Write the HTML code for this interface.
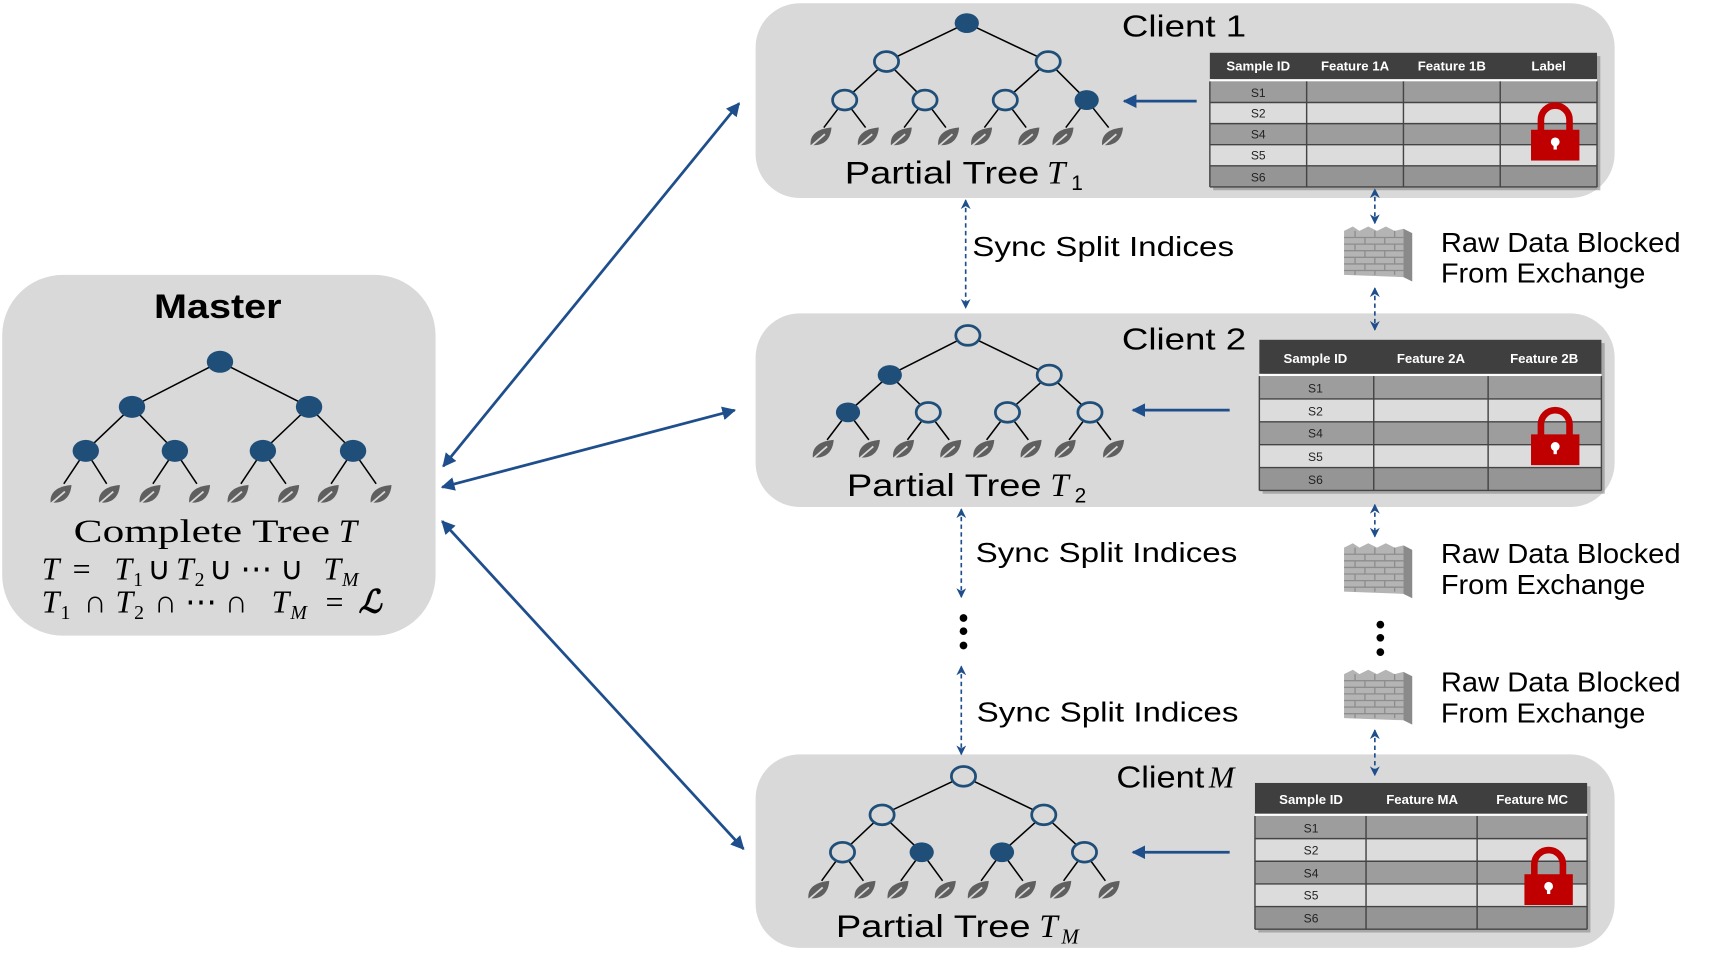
<!DOCTYPE html>
<html><head><meta charset="utf-8"><style>
html,body{margin:0;padding:0;background:#fff;}
svg{display:block;}
.s{font-family:"Liberation Sans",sans-serif;}
.r{font-family:"Liberation Serif",serif;}
</style></head><body>
<svg width="1718" height="960" viewBox="0 0 1562 873" preserveAspectRatio="none" xmlns="http://www.w3.org/2000/svg">
<defs>
<g id="lf"><path d="M-9,7 C-10,-3 -2,-8 10,-9 C9,3 2,8 -9,7Z" fill="#5f5f5f"/><path d="M-11,10 L4,-3" stroke="#d9d9d9" stroke-width="1.6"/></g>
<marker id="ah" viewBox="0 0 10 10" refX="9" refY="5" markerWidth="5" markerHeight="5" orient="auto-start-reverse"><path d="M0,0 L10,5 L0,10 z" fill="#1f4e8c"/></marker>
<marker id="ad" viewBox="0 0 10 10" refX="9" refY="5" markerWidth="6" markerHeight="6" orient="auto-start-reverse"><path d="M0,0 L10,5 L0,10 L3,5 z" fill="#1f4e8c"/></marker>
<g id="wall">
<polygon points="0,4 8,0 14,4 22,0 30,4 38,0 46,4 54,2 54,46 0,44" fill="#b4b4b4"/>
<polygon points="54,2 62,6 62,50 54,46" fill="#8a8a8a"/>
<g stroke="#8d8d8d" stroke-width="1.2">
<path d="M0,10 H54 M0,16 H54 M0,22 H54 M0,28 H54 M0,34 H54 M0,40 H54"/>
<path d="M10,4 V10 M28,4 V10 M46,4 V10 M19,10 V16 M37,10 V16 M10,16 V22 M28,16 V22 M46,16 V22 M19,22 V28 M37,22 V28 M10,28 V34 M28,28 V34 M46,28 V34 M19,34 V40 M37,34 V40 M10,40 V44 M28,40 V44 M46,40 V44"/>
</g>
</g>
<g id="lock">
<path d="M-13,-4 V-14 A13,13 0 0 1 13,-14 V-4" stroke="#c00000" stroke-width="6" fill="none"/>
<rect x="-22" y="-5" width="44" height="28" fill="#c00000"/>
<circle cx="0" cy="6" r="4" fill="#fff"/><rect x="-1.5" y="6" width="3" height="7" fill="#fff"/>
</g>
</defs>

<rect x="2" y="250" width="394" height="328" rx="55" fill="#d9d9d9"/>
<rect x="687" y="3" width="781" height="177" rx="40" fill="#d9d9d9"/>
<rect x="687" y="285" width="781" height="176" rx="40" fill="#d9d9d9"/>
<rect x="687" y="686" width="781" height="176" rx="40" fill="#d9d9d9"/>

<g stroke="#1f4e8c" stroke-width="2.5" fill="none" marker-start="url(#ah)" marker-end="url(#ah)">
<line x1="403" y1="424" x2="672" y2="94"/>
<line x1="402" y1="443" x2="668" y2="373"/>
<line x1="402" y1="474" x2="676" y2="772"/>
</g>
<g stroke="#1f4e8c" stroke-width="2.5" marker-end="url(#ah)">
<line x1="1088" y1="92" x2="1022" y2="92"/>
<line x1="1118" y1="373" x2="1030" y2="373"/>
<line x1="1118" y1="775" x2="1030" y2="775"/>
</g>
<g stroke="#1f4e8c" stroke-width="1.5" stroke-dasharray="4,3" marker-start="url(#ad)" marker-end="url(#ad)">
<line x1="878" y1="182" x2="878" y2="280"/>
<line x1="874" y1="463" x2="874" y2="543"/>
<line x1="874" y1="606" x2="874" y2="686"/>
<line x1="1250" y1="172" x2="1250" y2="203"/>
<line x1="1250" y1="262" x2="1250" y2="300"/>
<line x1="1250" y1="459" x2="1250" y2="488"/>
<line x1="1250" y1="664" x2="1250" y2="705"/>
</g>
<g fill="#000">
<circle cx="876" cy="562" r="3.5"/><circle cx="876" cy="574" r="3.5"/><circle cx="876" cy="587" r="3.5"/>
<circle cx="1255" cy="568" r="3.5"/><circle cx="1255" cy="580" r="3.5"/><circle cx="1255" cy="593" r="3.5"/>
</g>
<use href="#wall" x="1222" y="206"/>
<use href="#wall" x="1222" y="494"/>
<use href="#wall" x="1222" y="609"/>

<g stroke="#000" stroke-width="1.4">
<path d="M200,329 L120,370 M200,329 L281,370 M120,370 L78,410 M120,370 L159,410 M281,370 L239,410 M281,370 L321,410
M78,410 L58,440 M78,410 L97,440 M159,410 L139,440 M159,410 L179,440 M239,410 L219,440 M239,410 L260,440 M321,410 L301,440 M321,410 L342,440"/>
<path d="M879,21 L806,56 M879,21 L953,56 M806,56 L768,91 M806,56 L841,91 M953,56 L914,91 M953,56 L988,91
M768,91 L749,116 M768,91 L787,116 M841,91 L822,116 M841,91 L860,116 M914,91 L895,116 M914,91 L933,116 M988,91 L969,116 M988,91 L1008,116"/>
<path d="M880,305 L809,341 M880,305 L954,341 M809,341 L771,375 M809,341 L844,375 M954,341 L916,375 M954,341 L991,375
M771,375 L752,400 M771,375 L790,400 M844,375 L825,400 M844,375 L863,400 M916,375 L897,400 M916,375 L935,400 M991,375 L972,400 M991,375 L1010,400"/>
<path d="M876,706 L802,741 M876,706 L949,741 M802,741 L766,775 M802,741 L838,775 M949,741 L911,775 M949,741 L986,775
M766,775 L747,801 M766,775 L785,801 M838,775 L819,801 M838,775 L857,801 M911,775 L892,801 M911,775 L930,801 M986,775 L967,801 M986,775 L1005,801"/>
</g>
<g fill="#1f4e79">
<ellipse cx="200" cy="329" rx="12" ry="10"/><ellipse cx="120" cy="370" rx="12" ry="10"/><ellipse cx="281" cy="370" rx="12" ry="10"/>
<ellipse cx="78" cy="410" rx="12" ry="10"/><ellipse cx="159" cy="410" rx="12" ry="10"/><ellipse cx="239" cy="410" rx="12" ry="10"/><ellipse cx="321" cy="410" rx="12" ry="10"/>
<ellipse cx="879" cy="21" rx="11" ry="9"/><ellipse cx="988" cy="91" rx="11" ry="9"/>
<ellipse cx="809" cy="341" rx="11" ry="9"/><ellipse cx="771" cy="375" rx="11" ry="9"/>
<ellipse cx="838" cy="775" rx="11" ry="9"/><ellipse cx="911" cy="775" rx="11" ry="9"/>
</g>
<g fill="#d9d9d9" stroke="#1f4e79" stroke-width="2.5">
<ellipse cx="806" cy="56" rx="11" ry="9"/><ellipse cx="953" cy="56" rx="11" ry="9"/><ellipse cx="768" cy="91" rx="11" ry="9"/><ellipse cx="841" cy="91" rx="11" ry="9"/><ellipse cx="914" cy="91" rx="11" ry="9"/>
<ellipse cx="880" cy="305" rx="11" ry="9"/><ellipse cx="954" cy="341" rx="11" ry="9"/><ellipse cx="844" cy="375" rx="11" ry="9"/><ellipse cx="916" cy="375" rx="11" ry="9"/><ellipse cx="991" cy="375" rx="11" ry="9"/>
<ellipse cx="876" cy="706" rx="11" ry="9"/><ellipse cx="802" cy="741" rx="11" ry="9"/><ellipse cx="949" cy="741" rx="11" ry="9"/><ellipse cx="766" cy="775" rx="11" ry="9"/><ellipse cx="986" cy="775" rx="11" ry="9"/>
</g>
<g>
<use href="#lf" x="55" y="450"/><use href="#lf" x="99" y="450"/><use href="#lf" x="136" y="450"/><use href="#lf" x="181" y="450"/><use href="#lf" x="216" y="450"/><use href="#lf" x="262" y="450"/><use href="#lf" x="298" y="450"/><use href="#lf" x="346" y="450"/>
<use href="#lf" x="746" y="125"/><use href="#lf" x="789" y="125"/><use href="#lf" x="819" y="125"/><use href="#lf" x="862" y="125"/><use href="#lf" x="892" y="125"/><use href="#lf" x="935" y="125"/><use href="#lf" x="966" y="125"/><use href="#lf" x="1011" y="125"/>
<use href="#lf" x="748" y="409"/><use href="#lf" x="790" y="409"/><use href="#lf" x="821" y="409"/><use href="#lf" x="864" y="409"/><use href="#lf" x="894" y="409"/><use href="#lf" x="937" y="409"/><use href="#lf" x="968" y="409"/><use href="#lf" x="1012" y="409"/>
<use href="#lf" x="744" y="810"/><use href="#lf" x="786" y="810"/><use href="#lf" x="816" y="810"/><use href="#lf" x="859" y="810"/><use href="#lf" x="889" y="810"/><use href="#lf" x="932" y="810"/><use href="#lf" x="964" y="810"/><use href="#lf" x="1008" y="810"/>
</g>

<!-- table 1 -->
<rect x="1103" y="51" width="352" height="122" fill="#777" opacity="0.5"/>
<rect x="1100" y="48" width="352" height="24" fill="#3f3f3f"/>
<rect x="1100" y="72" width="352" height="2" fill="#fff"/>
<rect x="1100" y="74" width="352" height="19.2" fill="#9d9d9d"/>
<rect x="1100" y="93.2" width="352" height="19.2" fill="#dcdcdc"/>
<rect x="1100" y="112.4" width="352" height="19.2" fill="#9d9d9d"/>
<rect x="1100" y="131.6" width="352" height="19.2" fill="#dcdcdc"/>
<rect x="1100" y="150.8" width="352" height="19.2" fill="#959595"/>
<g stroke="#444" stroke-width="1.3"><path d="M1100,93.2H1452M1100,112.4H1452M1100,131.6H1452M1100,150.8H1452M1188,74V170M1276,74V170M1364,74V170M1100,74V170M1452,74V170M1100,170H1452"/></g>
<g class="s" font-size="12" font-weight="bold" fill="#fff" text-anchor="middle"><text x="1144" y="64">Sample ID</text><text x="1232" y="64">Feature 1A</text><text x="1320" y="64">Feature 1B</text><text x="1408" y="64">Label</text></g>
<g class="s" font-size="11" fill="#222" text-anchor="middle"><text x="1144" y="88">S1</text><text x="1144" y="107">S2</text><text x="1144" y="126">S4</text><text x="1144" y="145">S5</text><text x="1144" y="165">S6</text></g>
<use href="#lock" x="1414" y="123"/>

<!-- table 2 -->
<rect x="1148" y="312" width="311" height="137" fill="#777" opacity="0.5"/>
<rect x="1145" y="309" width="311" height="31" fill="#3f3f3f"/>
<rect x="1145" y="340" width="311" height="2" fill="#fff"/>
<rect x="1145" y="342" width="311" height="20.8" fill="#9d9d9d"/>
<rect x="1145" y="362.8" width="311" height="20.8" fill="#dcdcdc"/>
<rect x="1145" y="383.6" width="311" height="20.8" fill="#9d9d9d"/>
<rect x="1145" y="404.4" width="311" height="20.8" fill="#dcdcdc"/>
<rect x="1145" y="425.2" width="311" height="20.8" fill="#959595"/>
<g stroke="#444" stroke-width="1.3"><path d="M1145,362.8H1456M1145,383.6H1456M1145,404.4H1456M1145,425.2H1456M1249,342V446M1353,342V446M1145,342V446M1456,342V446M1145,446H1456"/></g>
<g class="s" font-size="12" font-weight="bold" fill="#fff" text-anchor="middle"><text x="1196" y="330">Sample ID</text><text x="1301" y="330">Feature 2A</text><text x="1404" y="330">Feature 2B</text></g>
<g class="s" font-size="11" fill="#222" text-anchor="middle"><text x="1196" y="357">S1</text><text x="1196" y="378">S2</text><text x="1196" y="398">S4</text><text x="1196" y="419">S5</text><text x="1196" y="440">S6</text></g>
<use href="#lock" x="1414" y="400"/>

<!-- table M -->
<rect x="1144" y="715" width="302" height="133" fill="#777" opacity="0.5"/>
<rect x="1141" y="712" width="302" height="28" fill="#3f3f3f"/>
<rect x="1141" y="740" width="302" height="2" fill="#fff"/>
<rect x="1141" y="742" width="302" height="20.6" fill="#9d9d9d"/>
<rect x="1141" y="762.6" width="302" height="20.6" fill="#dcdcdc"/>
<rect x="1141" y="783.2" width="302" height="20.6" fill="#9d9d9d"/>
<rect x="1141" y="803.8" width="302" height="20.6" fill="#dcdcdc"/>
<rect x="1141" y="824.4" width="302" height="20.6" fill="#959595"/>
<g stroke="#444" stroke-width="1.3"><path d="M1141,762.6H1443M1141,783.2H1443M1141,803.8H1443M1141,824.4H1443M1242,742V845M1343,742V845M1141,742V845M1443,742V845M1141,845H1443"/></g>
<g class="s" font-size="12" font-weight="bold" fill="#fff" text-anchor="middle"><text x="1192" y="731">Sample ID</text><text x="1293" y="731">Feature MA</text><text x="1393" y="731">Feature MC</text></g>
<g class="s" font-size="11" fill="#222" text-anchor="middle"><text x="1192" y="757">S1</text><text x="1192" y="777">S2</text><text x="1192" y="798">S4</text><text x="1192" y="818">S5</text><text x="1192" y="839">S6</text></g>
<use href="#lock" x="1408" y="800"/>

<!-- labels -->
<g class="s" fill="#000" font-size="28">
<text x="1020" y="33" textLength="113" lengthAdjust="spacingAndGlyphs">Client 1</text>
<text x="1020" y="318" textLength="113" lengthAdjust="spacingAndGlyphs">Client 2</text>
<text x="1015" y="716" textLength="80" lengthAdjust="spacingAndGlyphs">Client</text>
<text x="1099" y="716" class="r" font-style="italic">M</text>
<text x="140" y="289" font-size="31" font-weight="bold" textLength="116" lengthAdjust="spacingAndGlyphs">Master</text>
<text x="768" y="167" font-size="29" textLength="177" lengthAdjust="spacingAndGlyphs">Partial Tree</text>
<text x="952" y="167" font-size="30" class="r" font-style="italic">T</text><text x="974" y="173" font-size="19">1</text>
<text x="770" y="451" font-size="29" textLength="177" lengthAdjust="spacingAndGlyphs">Partial Tree</text>
<text x="955" y="451" font-size="30" class="r" font-style="italic">T</text><text x="977" y="457" font-size="19">2</text>
<text x="760" y="852" font-size="29" textLength="177" lengthAdjust="spacingAndGlyphs">Partial Tree</text>
<text x="945" y="852" font-size="30" class="r" font-style="italic">T</text><text x="965" y="858" font-size="19" class="r" font-style="italic">M</text>
</g>
<g class="s" fill="#000" font-size="25">
<text x="884" y="233" textLength="238" lengthAdjust="spacingAndGlyphs">Sync Split Indices</text>
<text x="887" y="511" textLength="238" lengthAdjust="spacingAndGlyphs">Sync Split Indices</text>
<text x="888" y="656" textLength="238" lengthAdjust="spacingAndGlyphs">Sync Split Indices</text>
<text x="1310" y="229" textLength="218" lengthAdjust="spacingAndGlyphs">Raw Data Blocked</text>
<text x="1310" y="257" textLength="186" lengthAdjust="spacingAndGlyphs">From Exchange</text>
<text x="1310" y="512" textLength="218" lengthAdjust="spacingAndGlyphs">Raw Data Blocked</text>
<text x="1310" y="540" textLength="186" lengthAdjust="spacingAndGlyphs">From Exchange</text>
<text x="1310" y="629" textLength="218" lengthAdjust="spacingAndGlyphs">Raw Data Blocked</text>
<text x="1310" y="657" textLength="186" lengthAdjust="spacingAndGlyphs">From Exchange</text>
</g>
<g class="r" fill="#000" font-size="30">
<text x="67" y="493" textLength="233" lengthAdjust="spacingAndGlyphs">Complete Tree</text>
<text x="308" y="493" font-style="italic">T</text>
</g>
<g class="r" fill="#000" font-size="29">
<text x="38" y="527" font-style="italic">T</text>
<text x="66" y="527">=</text>
<text x="104" y="527" font-style="italic">T</text><text x="121" y="533" font-size="18">1</text>
<text x="134" y="527">∪</text>
<text x="160" y="527" font-style="italic">T</text><text x="177" y="533" font-size="18">2</text>
<text x="190" y="527">∪ ⋯ ∪</text>
<text x="294" y="527" font-style="italic">T</text><text x="311" y="533" font-size="18" font-style="italic">M</text>
<text x="38" y="557" font-style="italic">T</text><text x="55" y="563" font-size="18">1</text>
<text x="76" y="557">∩</text>
<text x="105" y="557" font-style="italic">T</text><text x="122" y="563" font-size="18">2</text>
<text x="140" y="557">∩ ⋯ ∩</text>
<text x="247" y="557" font-style="italic">T</text><text x="264" y="563" font-size="18" font-style="italic">M</text>
<text x="296" y="557">=</text>
<text x="326" y="557" font-weight="bold" font-style="italic">ℒ</text>
</g>
</svg>
</body></html>
